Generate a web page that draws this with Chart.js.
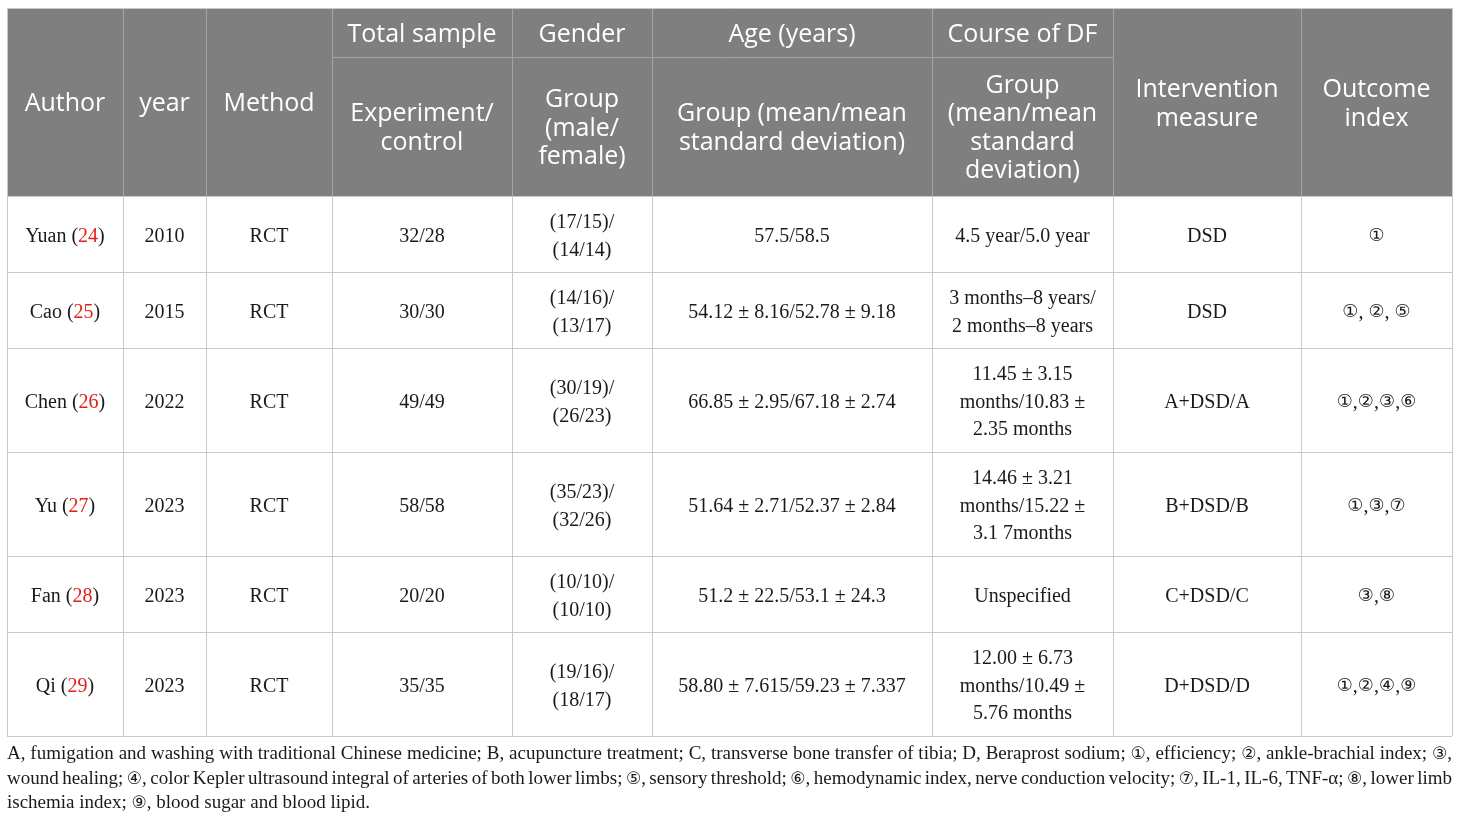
<!DOCTYPE html>
<html>
<head>
<meta charset="utf-8">
<script src="https://cdn.jsdelivr.net/npm/chart.js@4.4.0/dist/chart.umd.min.js"></script>
<style>
  html, body { margin: 0; padding: 0; background: #fff; }
  canvas { display: block; }
</style>
</head>
<body>
<canvas id="table" width="1460" height="822"></canvas>
<script>
// table content
const spanHeaders = ["Author", "year", "Method", ["Intervention", "measure"], ["Outcome", "index"]];
const groupHeaders = ["Total sample", "Gender", "Age (years)", "Course of DF"];
const subHeaders = [
  ["Experiment/", "control"],
  ["Group", "(male/", "female)"],
  ["Group (mean/mean", "standard deviation)"],
  ["Group", "(mean/mean", "standard", "deviation)"],
];

const authors = ["Yuan", "Cao", "Chen", "Yu", "Fan", "Qi"];
const refs = ["24", "25", "26", "27", "28", "29"];
const years = ["2010", "2015", "2022", "2023", "2023", "2023"];
const methods = ["RCT", "RCT", "RCT", "RCT", "RCT", "RCT"];
const samples = ["32/28", "30/30", "49/49", "58/58", "20/20", "35/35"];
const gender = [
  ["(17/15)/", "(14/14)"],
  ["(14/16)/", "(13/17)"],
  ["(30/19)/", "(26/23)"],
  ["(35/23)/", "(32/26)"],
  ["(10/10)/", "(10/10)"],
  ["(19/16)/", "(18/17)"],
];
const age = [
  "57.5/58.5",
  "54.12 ± 8.16/52.78 ± 9.18",
  "66.85 ± 2.95/67.18 ± 2.74",
  "51.64 ± 2.71/52.37 ± 2.84",
  "51.2 ± 22.5/53.1 ± 24.3",
  "58.80 ± 7.615/59.23 ± 7.337",
];
const course = [
  ["4.5 year/5.0 year"],
  ["3 months–8 years/", "2 months–8 years"],
  ["11.45 ± 3.15", "months/10.83 ±", "2.35 months"],
  ["14.46 ± 3.21", "months/15.22 ±", "3.1 7months"],
  ["Unspecified"],
  ["12.00 ± 6.73", "months/10.49 ±", "5.76 months"],
];
const intervention = ["DSD", "DSD", "A+DSD/A", "B+DSD/B", "C+DSD/C", "D+DSD/D"];
const outcome = ["①", "①, ②, ⑤", "①,②,③,⑥", "①,③,⑦", "③,⑧", "①,②,④,⑨"];

const footnote = [
  "A, fumigation and washing with traditional Chinese medicine; B, acupuncture treatment; C, transverse bone transfer of tibia; D, Beraprost sodium; ①, efficiency; ②, ankle-brachial index; ③,",
  "wound healing; ④, color Kepler ultrasound integral of arteries of both lower limbs; ⑤, sensory threshold; ⑥, hemodynamic index, nerve conduction velocity; ⑦, IL-1, IL-6, TNF-α; ⑧, lower limb",
  "ischemia index; ⑨, blood sugar and blood lipid.",
];

// layout (in the 1460 x 822 value space of the hidden scales)
const colEdges = [7, 123, 206, 332, 512, 652, 932, 1113, 1301, 1452];
const headEdges = [8, 57, 196];
const rowEdges = [196, 272, 348, 452, 556, 632, 736];
const footBase = [759, 784, 808];

const HEAD_FONT = "25px 'Open Sans', 'DejaVu Sans', sans-serif";
const BODY_FONT = "20px 'Liberation Serif', 'DejaVu Sans', serif";
const FOOT_FONT = "19px 'Liberation Serif', 'DejaVu Sans', serif";
const CIRC_BODY = "18px 'DejaVu Sans', sans-serif";
const CIRC_FOOT = "17px 'DejaVu Sans', sans-serif";
const INK = "#1a1a1a";

// split text into runs so circled digits get their own font
function runs(text) {
  const out = [];
  for (const ch of text) {
    const circ = ch >= "\u2460" && ch <= "\u2473";
    if (out.length && out[out.length - 1].circ === circ) out[out.length - 1].t += ch;
    else out.push({ t: ch, circ });
  }
  return out;
}

const tablePlugin = {
  id: "tablePlugin",
  afterDraw(chart) {
    const c = chart.ctx;
    const xs = chart.scales.x, ys = chart.scales.y;
    const px = v => xs.getPixelForValue(v);
    const py = v => ys.getPixelForValue(v);
    const cx = i => (px(colEdges[i]) + px(colEdges[i + 1])) / 2;

    function measureMixed(t, base, circ) {
      return runs(t).reduce((s, r) => {
        c.font = r.circ ? circ : base;
        return s + c.measureText(r.t).width;
      }, 0);
    }
    function fillMixed(t, x, y, base, circ) {
      runs(t).forEach(r => {
        c.font = r.circ ? circ : base;
        c.fillText(r.t, x, y);
        x += c.measureText(r.t).width;
      });
    }
    function lines(text, x, yMid, lh) {
      const arr = Array.isArray(text) ? text : [text];
      const top = yMid - (arr.length - 1) * lh / 2;
      arr.forEach((t, k) => c.fillText(t, x, top + k * lh));
    }
    function bodyLines(text, x, yMid, lh) {
      const arr = Array.isArray(text) ? text : [text];
      const top = yMid - (arr.length - 1) * lh / 2;
      c.textAlign = "left";
      arr.forEach((t, k) => {
        const w = measureMixed(t, BODY_FONT, CIRC_BODY);
        fillMixed(t, x - w / 2, top + k * lh, BODY_FONT, CIRC_BODY);
      });
    }

    c.save();
    // header background
    c.fillStyle = "#7f7f7f";
    c.fillRect(px(colEdges[0]), py(headEdges[0]), px(colEdges[9]) - px(colEdges[0]), py(headEdges[2]) - py(headEdges[0]));

    // header grid
    c.strokeStyle = "#a3a3a3";
    c.lineWidth = 1;
    c.beginPath();
    for (let i = 1; i < 9; i++) {
      c.moveTo(Math.round(px(colEdges[i])) + 0.5, py(headEdges[0]));
      c.lineTo(Math.round(px(colEdges[i])) + 0.5, py(headEdges[2]));
    }
    c.moveTo(px(colEdges[3]), Math.round(py(headEdges[1])) + 0.5);
    c.lineTo(px(colEdges[7]), Math.round(py(headEdges[1])) + 0.5);
    c.stroke();

    // body grid and outer border
    c.strokeStyle = "#c9c9c9";
    c.beginPath();
    for (let i = 0; i < 10; i++) {
      const x = Math.round(px(colEdges[i])) + 0.5;
      c.moveTo(x, py(rowEdges[0]));
      c.lineTo(x, py(rowEdges[rowEdges.length - 1]));
    }
    rowEdges.forEach(r => {
      const y = Math.round(py(r)) + 0.5;
      c.moveTo(px(colEdges[0]), y);
      c.lineTo(px(colEdges[9]), y);
    });
    [0, 9].forEach(i => {
      c.moveTo(Math.round(px(colEdges[i])) + 0.5, py(headEdges[0]));
      c.lineTo(Math.round(px(colEdges[i])) + 0.5, py(headEdges[2]));
    });
    c.moveTo(px(colEdges[0]), Math.round(py(headEdges[0])) + 0.5);
    c.lineTo(px(colEdges[9]), Math.round(py(headEdges[0])) + 0.5);
    c.stroke();

    // header text
    c.fillStyle = "#ffffff";
    c.font = HEAD_FONT;
    c.textAlign = "center";
    c.textBaseline = "middle";
    const dy = 2;
    const headMid = (py(headEdges[0]) + py(headEdges[2])) / 2 + dy;
    const topMid = (py(headEdges[0]) + py(headEdges[1])) / 2 + dy;
    const subMid = (py(headEdges[1]) + py(headEdges[2])) / 2 + dy;
    const spanCols = [0, 1, 2, 7, 8];
    spanHeaders.forEach((h, k) => lines(h, cx(spanCols[k]), headMid, 29));
    groupHeaders.forEach((h, k) => lines(h, cx(3 + k), topMid, 29));
    subHeaders.forEach((h, k) => lines(h, cx(3 + k), subMid, 28.5));

    // body text
    authors.forEach((a, r) => {
      const mid = (py(rowEdges[r]) + py(rowEdges[r + 1])) / 2 + 2.5;
      // author with red reference number
      c.font = BODY_FONT;
      const parts = [[a + " (", INK], [refs[r], "#e0201b"], [")", INK]];
      const total = parts.reduce((s, p) => s + c.measureText(p[0]).width, 0);
      let x = cx(0) - total / 2;
      c.textAlign = "left";
      parts.forEach(p => {
        c.fillStyle = p[1];
        c.fillText(p[0], x, mid);
        x += c.measureText(p[0]).width;
      });
      c.fillStyle = INK;
      const cells = [years[r], methods[r], samples[r], gender[r], age[r], course[r], intervention[r], outcome[r]];
      cells.forEach((t, k) => bodyLines(t, cx(k + 1), mid, 27.5));
    });

    // footnote (first lines justified)
    c.textAlign = "left";
    c.textBaseline = "alphabetic";
    c.fillStyle = INK;
    const left = px(colEdges[0]), right = px(colEdges[9]);
    footnote.forEach((t, k) => {
      const y = py(footBase[k]);
      if (k === footnote.length - 1) {
        fillMixed(t, left, y, FOOT_FONT, CIRC_FOOT);
        return;
      }
      const words = t.split(" ");
      const widths = words.map(w => measureMixed(w, FOOT_FONT, CIRC_FOOT));
      const gap = (right - left - widths.reduce((s, w) => s + w, 0)) / (words.length - 1);
      let x = left;
      words.forEach((w, i) => {
        fillMixed(w, x, y, FOOT_FONT, CIRC_FOOT);
        x += widths[i] + gap;
      });
    });
    c.restore();
  }
};

new Chart(document.getElementById("table").getContext("2d"), {
  type: "scatter",
  data: { datasets: [{ data: [] }] },
  options: {
    responsive: false,
    animation: false,
    layout: { padding: 0 },
    plugins: { legend: { display: false }, tooltip: { enabled: false } },
    scales: {
      x: { type: "linear", min: 0, max: 1460, display: false },
      y: { type: "linear", min: 0, max: 822, reverse: true, display: false },
    },
  },
  plugins: [tablePlugin],
});
</script>
</body>
</html>
